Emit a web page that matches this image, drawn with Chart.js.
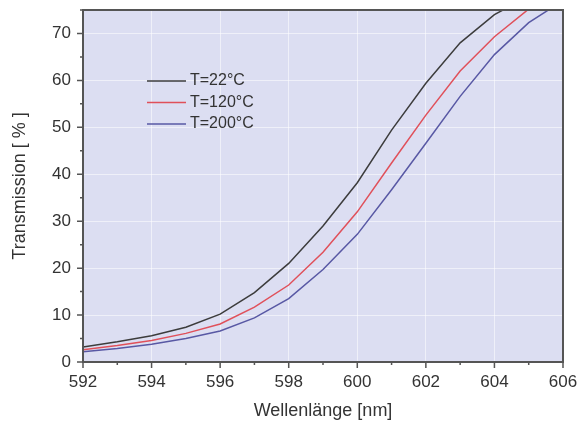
<!DOCTYPE html>
<html>
<head>
<meta charset="utf-8">
<script src="https://cdn.jsdelivr.net/npm/chart.js@4.4.0/dist/chart.umd.min.js"></script>
<style>
    html, body { margin: 0; padding: 0; background: #ffffff; }
    #wrap { width: 578px; height: 423px; }
</style>
</head>
<body>
<div id="wrap"><canvas id="transChart" width="578" height="423"></canvas></div>
<script>
// wavelength in nm
const wavelengths = [592, 593, 594, 595, 596, 597, 598, 599, 600, 601, 602, 603, 604, 605, 606];
// transmission in %
const t22 = [3.2, 4.3, 5.6, 7.4, 10.2, 14.8, 21.0, 29.0, 38.2, 49.4, 59.4, 68.0, 74.0, 78.0];
const t120 = [2.6, 3.5, 4.6, 6.1, 8.1, 11.7, 16.4, 23.4, 32.0, 42.4, 52.6, 62.0, 69.3, 75.2];
const t200 = [2.2, 2.9, 3.8, 5.0, 6.6, 9.4, 13.5, 19.7, 27.2, 36.7, 46.6, 56.6, 65.5, 72.3, 77.0];
const seriesLabels = ["T=22°C", "T=120°C", "T=200°C"];
const seriesColors = ["#3c3c3c", "#e0505a", "#5858a4"];
const xTicks = [592, 594, 596, 598, 600, 602, 604, 606];
const yTicks = [0, 10, 20, 30, 40, 50, 60, 70];

const fontFamily = "'Liberation Sans', Arial, Helvetica, sans-serif";

function toPoints(values){
    return values.map((v, i) => ({ x: wavelengths[i], y: v }));
}

// plot background, frame, ticks and the legend box
const framePlugin = {
    id: "framePlugin",
    beforeDraw(chart){
        const a = chart.chartArea;
        const ctx = chart.ctx;
        ctx.save();
        ctx.fillStyle = "#dcdef2";
        ctx.fillRect(a.left, a.top, a.right - a.left, a.bottom - a.top);
        ctx.restore();
    },
    afterDraw(chart){
        const a = chart.chartArea;
        const ctx = chart.ctx;
        const xs = chart.scales.x;
        const ys = chart.scales.y;
        ctx.save();
        ctx.strokeStyle = "#555555";
        ctx.lineWidth = 2;
        ctx.strokeRect(a.left, a.top, a.right - a.left, a.bottom - a.top);

        ctx.lineWidth = 1.5;
        ctx.beginPath();
        for (let v = 592; v <= 606; v++) {
            const px = xs.getPixelForValue(v);
            const len = xTicks.includes(v) ? 6 : 3;
            ctx.moveTo(px, a.bottom);
            ctx.lineTo(px, a.bottom + len);
        }
        for (let v = 0; v <= 75; v += 5) {
            const py = ys.getPixelForValue(v);
            const len = yTicks.includes(v) ? 6 : 3;
            ctx.moveTo(a.left, py);
            ctx.lineTo(a.left - len, py);
        }
        ctx.stroke();

        // legend
        const lx = a.left + 64;
        let ly = a.top + 71;
        ctx.font = "16px " + fontFamily;
        ctx.textBaseline = "middle";
        chart.data.datasets.forEach((ds) => {
            ctx.strokeStyle = ds.borderColor;
            ctx.lineWidth = 1.5;
            ctx.beginPath();
            ctx.moveTo(lx, ly);
            ctx.lineTo(lx + 39, ly);
            ctx.stroke();
            ctx.fillStyle = "#333333";
            ctx.fillText(ds.label, lx + 43, ly);
            ly += 21.5;
        });
        ctx.restore();
    }
};

const datasets = [t22, t120, t200].map((vals, i) => ({
    label: seriesLabels[i],
    data: toPoints(vals),
    borderColor: seriesColors[i],
    borderWidth: 1.5,
    pointRadius: 0,
    tension: 0,
    fill: false
}));

new Chart(document.getElementById("transChart"), {
    type: "line",
    data: { datasets: datasets },
    plugins: [framePlugin],
    options: {
        responsive: false,
        animation: false,
        layout: { padding: { top: 10, right: 15, left: 0, bottom: 0 } },
        plugins: {
            legend: { display: false },
            tooltip: { enabled: false }
        },
        scales: {
            x: {
                type: "linear",
                min: 592,
                max: 606,
                afterFit(scale){
                    scale.height = 61;
                    scale.paddingLeft = 0;
                    scale.paddingRight = 0;
                },
                afterBuildTicks(scale){
                    scale.ticks = xTicks.map(v => ({ value: v }));
                },
                border: { display: false },
                grid: {
                    color: "rgba(255,255,255,0.55)",
                    lineWidth: 1,
                    drawTicks: false
                },
                ticks: {
                    autoSkip: false,
                    maxRotation: 0,
                    padding: 10,
                    color: "#333333",
                    font: { family: fontFamily, size: 17 }
                },
                title: {
                    display: true,
                    text: "Wellenlänge [nm]",
                    color: "#333333",
                    font: { family: fontFamily, size: 18 },
                    padding: { top: 0, bottom: 1 }
                }
            },
            y: {
                type: "linear",
                min: 0,
                max: 75,
                afterFit(scale){
                    scale.width = 83;
                    scale.paddingTop = 0;
                    scale.paddingBottom = 0;
                },
                afterBuildTicks(scale){
                    scale.ticks = yTicks.map(v => ({ value: v }));
                },
                border: { display: false },
                grid: {
                    color: "rgba(255,255,255,0.55)",
                    lineWidth: 1,
                    drawTicks: false
                },
                ticks: {
                    padding: 12,
                    color: "#333333",
                    font: { family: fontFamily, size: 17 }
                },
                title: {
                    display: true,
                    text: "Transmission [ % ]",
                    color: "#333333",
                    font: { family: fontFamily, size: 18 },
                    padding: { top: 9, bottom: 0 }
                }
            }
        }
    }
});
</script>
</body>
</html>
